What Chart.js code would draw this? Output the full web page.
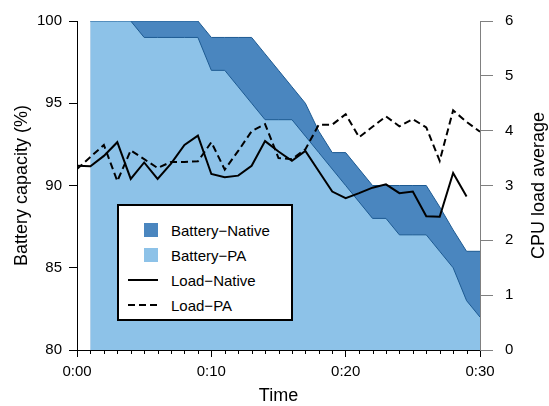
<!DOCTYPE html>
<html>
<head>
<meta charset="utf-8">
<script src="https://cdn.jsdelivr.net/npm/chart.js@4/dist/chart.umd.min.js"></script>
<style>
  html, body { margin: 0; padding: 0; background: #fff; }
  #wrap { position: relative; width: 549px; height: 406px; }
  #chart { position: absolute; left: 0; top: 0; }
  #legend {
    position: absolute; left: 117px; top: 204px; width: 172px; height: 113px;
    border: 2px solid #000; background: #fff;
    font: 15px 'Liberation Sans', Arial, sans-serif; color: #000;
  }
  .row { position: absolute; left: 0; width: 100%; height: 25px; line-height: 25px; }
  .row span { position: absolute; left: 52px; top: 0; white-space: nowrap; }
  .sym { position: absolute; }
</style>
</head>
<body>
<div id="wrap">
  <canvas id="chart" width="549" height="406"></canvas>
  <div id="legend"></div>
</div>
<script>
// minutes since start
const timeMin = [0, 1, 2, 3, 4, 5, 6, 7, 8, 9, 10, 11, 12, 13, 14, 15, 16, 17, 18, 19, 20,
                 21, 22, 23, 24, 25, 26, 27, 28, 29, 30];
const timeTickLabels = ['0:00', '0:10', '0:20', '0:30'];

// battery capacity (%) - no sample at minute 0
const batteryNative = [null, 100, 100, 100, 100, 100, 100, 100, 100, 100, 99, 99, 99, 99, 98, 97, 96, 95, 93.3, 92, 92,
                       91, 90, 90, 90, 90, 90, 88.7, 87.3, 86, 86];
const batteryPA = [null, 100, 100, 100, 100, 99, 99, 99, 99, 99, 97, 97, 96, 95, 94, 94, 94, 93, 92, 91, 90,
                   89, 88, 88, 87, 87, 87, 86, 85, 83, 82];

// CPU load average
const loadNative = [3.36, 3.35, 3.54, 3.79, 3.12, 3.42, 3.12, 3.40, 3.74, 3.91, 3.21, 3.15, 3.18, 3.36, 3.81, 3.62,
                    3.45, 3.63, 3.26, 2.89, 2.77, 2.86, 2.96, 3.02, 2.86, 2.89, 2.44, 2.43, 3.23, 2.80, null];
const loadPA = [3.30, 3.52, 3.74, 3.08, 3.64, 3.48, 3.32, 3.43, 3.43, 3.44, 3.79, 3.29, 3.63, 3.99, 4.12, 3.50,
                3.48, 3.66, 4.11, 4.11, 4.30, 3.88, 4.07, 4.26, 4.08, 4.21, 4.06, 3.45, 4.37, 4.16, 3.98];

const FONT = "'Liberation Sans', Arial, Helvetica, sans-serif";
Chart.defaults.font.family = FONT;
Chart.defaults.color = '#000';

function points(values) {
    return timeMin.map((t, i) => ({ x: t, y: values[i] })).filter(p => p.y !== null);
}

// short minute ticks on the time axis
const minorTicks = {
    id: 'minorTicks',
    afterDraw(chart) {
        const { ctx, scales: { x } } = chart;
        ctx.save();
        ctx.strokeStyle = '#000';
        ctx.lineWidth = 1;
        timeMin.forEach(t => {
            if (t % 10 === 0) return;
            const px = Math.round(x.getPixelForValue(t)) + 0.5;
            ctx.beginPath();
            ctx.moveTo(px, x.top);
            ctx.lineTo(px, x.top + 4);
            ctx.stroke();
        });
        ctx.restore();
    }
};

// right axis title reads bottom-to-top like the left one
const rightTitle = {
    id: 'rightTitle',
    afterDraw(chart) {
        const { ctx, scales: { y2 } } = chart;
        ctx.save();
        ctx.translate(539, (y2.top + y2.bottom) / 2);
        ctx.rotate(-Math.PI / 2);
        ctx.font = '18px ' + FONT;
        ctx.fillStyle = '#000';
        ctx.textAlign = 'center';
        ctx.textBaseline = 'middle';
        ctx.fillText('CPU load average', 0, 0);
        ctx.restore();
    }
};

const datasets = [
    { label: 'Battery−Native', data: points(batteryNative), yAxisID: 'y', order: 3,
      backgroundColor: '#4a86bf', borderColor: '#1d5a92', borderWidth: 1, fill: 'start', pointRadius: 0, tension: 0 },
    { label: 'Battery−PA', data: points(batteryPA), yAxisID: 'y', order: 2,
      backgroundColor: '#8dc2e8', borderColor: '#1d5a92', borderWidth: 1, fill: 'start', pointRadius: 0, tension: 0 },
    { label: 'Load−Native', data: points(loadNative), yAxisID: 'y2', order: 1,
      borderColor: '#000', borderWidth: 2, fill: false, pointRadius: 0, tension: 0 },
    { label: 'Load−PA', data: points(loadPA), yAxisID: 'y2', order: 0,
      borderColor: '#000', borderWidth: 2, borderDash: [7, 4], fill: false, pointRadius: 0, tension: 0 }
];

const chart = new Chart(document.getElementById('chart'), {
    type: 'line',
    data: { datasets },
    options: {
        responsive: false,
        animation: false,
        layout: { padding: { top: 14, left: 0, right: 0, bottom: 0 } },
        plugins: { legend: { display: false }, tooltip: { enabled: false } },
        scales: {
            x: {
                type: 'linear', min: 0, max: 30,
                ticks: { stepSize: 10, maxRotation: 0, padding: 6, font: { size: 15 },
                         callback: v => timeTickLabels[v / 10] },
                grid: { drawOnChartArea: false, tickLength: 7, color: '#000' },
                border: { color: '#000' },
                title: { display: true, text: 'Time', font: { size: 18 }, padding: { top: 0, bottom: -1 } },
                afterFit(s) { s.height = 56; }
            },
            y: {
                position: 'left', min: 80, max: 100,
                ticks: { stepSize: 5, padding: 7, font: { size: 15 } },
                grid: { drawOnChartArea: false, tickLength: 8, color: '#000' },
                border: { color: '#000' },
                title: { display: true, text: 'Battery capacity (%)', font: { size: 18 }, padding: { top: 11, bottom: 0 } },
                afterFit(s) { s.width = 77; }
            },
            y2: {
                position: 'right', min: 0, max: 6,
                ticks: { stepSize: 1, padding: 12, font: { size: 15 } },
                grid: { drawOnChartArea: false, tickLength: 13, color: '#808080' },
                border: { color: '#808080' },
                afterFit(s) { s.width = 69; }
            }
        }
    },
    plugins: [minorTicks, rightTitle]
});

// legend box inside the plot, same order as the datasets
const legend = document.getElementById('legend');
chart.data.datasets.forEach((ds, i) => {
    const row = document.createElement('div');
    row.className = 'row';
    row.style.top = (12 + i * 25) + 'px';
    const sym = document.createElement('div');
    sym.className = 'sym';
    if (ds.fill) {
        Object.assign(sym.style, { left: '25px', top: '5px', width: '14px', height: '14px', background: ds.backgroundColor });
    } else {
        Object.assign(sym.style, { left: '9px', top: '11px', width: '30px', height: '2px',
            background: ds.borderDash ? 'repeating-linear-gradient(to right, #000 0 7px, transparent 7px 11px)' : '#000' });
    }
    const txt = document.createElement('span');
    txt.textContent = ds.label;
    row.appendChild(sym);
    row.appendChild(txt);
    legend.appendChild(row);
});
</script>
</body>
</html>
